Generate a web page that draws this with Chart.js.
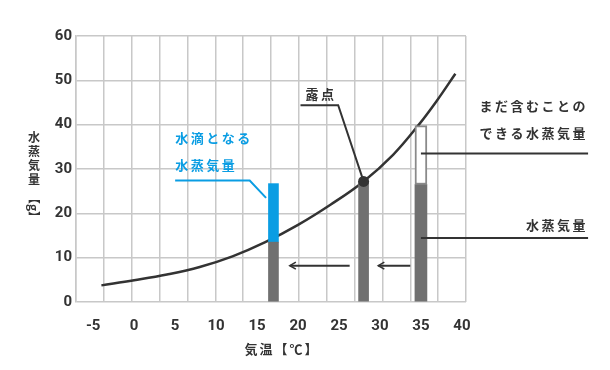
<!DOCTYPE html>
<html lang="ja">
<head>
<meta charset="utf-8">
<script src="https://cdn.jsdelivr.net/npm/chart.js@4/dist/chart.umd.min.js"></script>
<style>
  html, body { margin: 0; padding: 0; background: #fff; }
  #wrap { width: 610px; height: 370px; position: relative; }
</style>
</head>
<body>
<div id="wrap"><canvas id="chart"></canvas></div>
<script>
// saturation curve (temperature ℃ / vapour g)
const curveTemp  = [-4, 0, 4, 8, 12, 16, 20, 24, 28, 31.6, 34.7, 36.9, 39.2];
const curveVapor = [3.75, 4.9, 6.2, 7.9, 10.3, 13.5, 17.4, 22.0, 27.2, 33.2, 39.9, 45.3, 51.5];

const xTicks = [-5, 0, 5, 10, 15, 20, 25, 30, 35, 40];
const yTicks = [0, 10, 20, 30, 40, 50, 60];

// bars: air at 17, 28 (dew point) and 35 ℃
const barTemps = [17, 28, 35];
const barVapor = [13.5, 27.2, 26.5];
const dropTop = 26.7;      // blue part on the 17 ℃ bar
const capacityTop = 39.8;  // white part on the 35 ℃ bar
const dewPoint = [28, 27.2];

const dark = '#333333';
const blue = '#0a9de3';
const grey = '#707070';
const gridColor = '#c8c8c8';
const jp = '"Noto Sans CJK JP", "Noto Sans", sans-serif';

// leader lines and arrows, in chart units
const dewLeader = [[20.3, 44.4], [24.9, 44.4], dewPoint];
const dropLeader = [[5, 27.4], [14.1, 27.4], [16.1, 23.5]];
const capLeader = [[35, 33.5], [55.4, 33.5]];
const vaporLeader = [[35, 14.45], [55.4, 14.45]];
const arrows = [[[26.3, 8.2], [19.0, 8.2]], [[33.7, 8.2], [29.8, 8.2]]];

const notes = [
  { text: '露点', t: 20.9, v: 47.0, align: 'left', color: dark },
  { text: '水滴となる', t: 5, v: 36.9, align: 'left', color: blue },
  { text: '水蒸気量', t: 5, v: 30.8, align: 'left', color: blue },
  { text: 'まだ含むことの', t: 55.4, v: 44.1, align: 'right', color: dark },
  { text: 'できる水蒸気量', t: 55.4, v: 38.0, align: 'right', color: dark },
  { text: '水蒸気量', t: 55.4, v: 17.45, align: 'right', color: dark }
];

const curve = curveTemp.map((t, i) => ({ x: t, y: curveVapor[i] }));

function barSet(data, color, thick, extra) {
  return Object.assign({
    type: 'bar',
    data: data,
    backgroundColor: color,
    barThickness: thick,
    grouped: false,
    borderWidth: 0,
    order: 1
  }, extra || {});
}

const annotations = {
  id: 'annotations',
  afterDatasetsDraw(chart) {
    const ctx = chart.ctx;
    const sx = chart.scales.x, sy = chart.scales.y;
    const p = (pt) => [sx.getPixelForValue(pt[0]), sy.getPixelForValue(pt[1])];

    function polyline(pts, color) {
      ctx.beginPath();
      pts.map(p).forEach((q, i) => i ? ctx.lineTo(q[0], q[1]) : ctx.moveTo(q[0], q[1]));
      ctx.strokeStyle = color;
      ctx.lineWidth = 2;
      ctx.stroke();
    }

    ctx.save();
    ctx.lineJoin = 'miter';
    polyline(dewLeader, dark);
    polyline(dropLeader, blue);
    polyline(capLeader, dark);
    polyline(vaporLeader, dark);

    arrows.forEach(a => {
      polyline(a, dark);
      const [x, y] = p(a[1]);
      ctx.beginPath();
      ctx.moveTo(x + 6, y - 3.5);
      ctx.lineTo(x, y);
      ctx.lineTo(x + 6, y + 3.5);
      ctx.lineWidth = 1.6;
      ctx.stroke();
    });

    ctx.font = 'bold 13px ' + jp;
    ctx.letterSpacing = '2.5px';
    ctx.textBaseline = 'middle';
    notes.forEach(n => {
      const [x, y] = p([n.t, n.v]);
      ctx.fillStyle = n.color;
      ctx.textAlign = n.align;
      ctx.fillText(n.text, x, y);
    });

    // axis titles
    const area = chart.chartArea;
    ctx.fillStyle = dark;
    ctx.textAlign = 'center';
    ctx.font = 'bold 13px ' + jp;
    ctx.letterSpacing = '2px';
    ctx.fillText('気温【℃】', area.left + 206, area.bottom + 47);

    ctx.letterSpacing = '0px';
    ctx.font = 'bold 12px ' + jp;
    ['水', '蒸', '気', '量'].forEach((ch, i) => {
      ctx.fillText(ch, 34, 137.5 + i * 14);
    });
    ctx.translate(34, 207.5);
    ctx.rotate(Math.PI / 2);
    ctx.fillText('【g】', 0, 0);
    ctx.restore();
  }
};

new Chart(document.getElementById('chart'), {
  type: 'bar',
  data: {
    datasets: [
      {
        type: 'line',
        data: curve,
        borderColor: dark,
        borderWidth: 2.5,
        pointRadius: 0,
        tension: 0.4,
        fill: false,
        order: 3
      },
      barSet(barTemps.filter((t, i) => i < 2).map((t, i) => ({ x: t, y: [0, barVapor[i]] })), grey, 10),
      barSet([{ x: barTemps[2], y: [0, barVapor[2]] }], grey, 12),
      barSet([{ x: barTemps[0], y: [barVapor[0], dropTop] }], blue, 10),
      barSet([{ x: barTemps[2], y: [barVapor[2], capacityTop] }], '#ffffff', 12,
        { borderColor: '#8a8a8a', borderWidth: 2, borderSkipped: false }),
      {
        type: 'line',
        data: [{ x: dewPoint[0], y: dewPoint[1] }],
        showLine: false,
        pointRadius: 5.5,
        pointBackgroundColor: dark,
        pointBorderWidth: 0,
        order: 0
      }
    ]
  },
  options: {
    responsive: true,
    maintainAspectRatio: false,
    animation: false,
    events: [],
    layout: { padding: { left: 0, right: 144, top: 36, bottom: 0 } },
    plugins: { legend: { display: false }, tooltip: { enabled: false } },
    scales: {
      x: {
        type: 'linear',
        min: -7.1,
        max: 40.5,
        offset: false,
        grid: { display: false, offset: false },
        border: { display: false },
        afterBuildTicks: axis => { axis.ticks = xTicks.map(v => ({ value: v })); },
        afterFit: s => { s.height = 68; },
        ticks: {
          padding: 7,
          color: dark,
          font: { family: 'Roboto', weight: 'bold', size: 15 }
        }
      },
      xg: {
        type: 'linear',
        position: 'bottom',
        min: 0,
        max: 13,
        afterFit: s => { s.height = 0; },
        ticks: { display: false, stepSize: 1 },
        grid: { color: gridColor, lineWidth: 1.5, drawTicks: false },
        border: { display: false }
      },
      y: {
        min: 0,
        max: 60,
        afterBuildTicks: axis => { axis.ticks = yTicks.map(v => ({ value: v })); },
        afterFit: s => { s.width = 76; },
        grid: { color: gridColor, lineWidth: 1.5, drawTicks: false },
        border: { color: gridColor, width: 1.5 },
        ticks: {
          padding: 4,
          color: dark,
          font: { family: 'Roboto', weight: 'bold', size: 15 }
        }
      }
    }
  },
  plugins: [annotations]
});
</script>
</body>
</html>
